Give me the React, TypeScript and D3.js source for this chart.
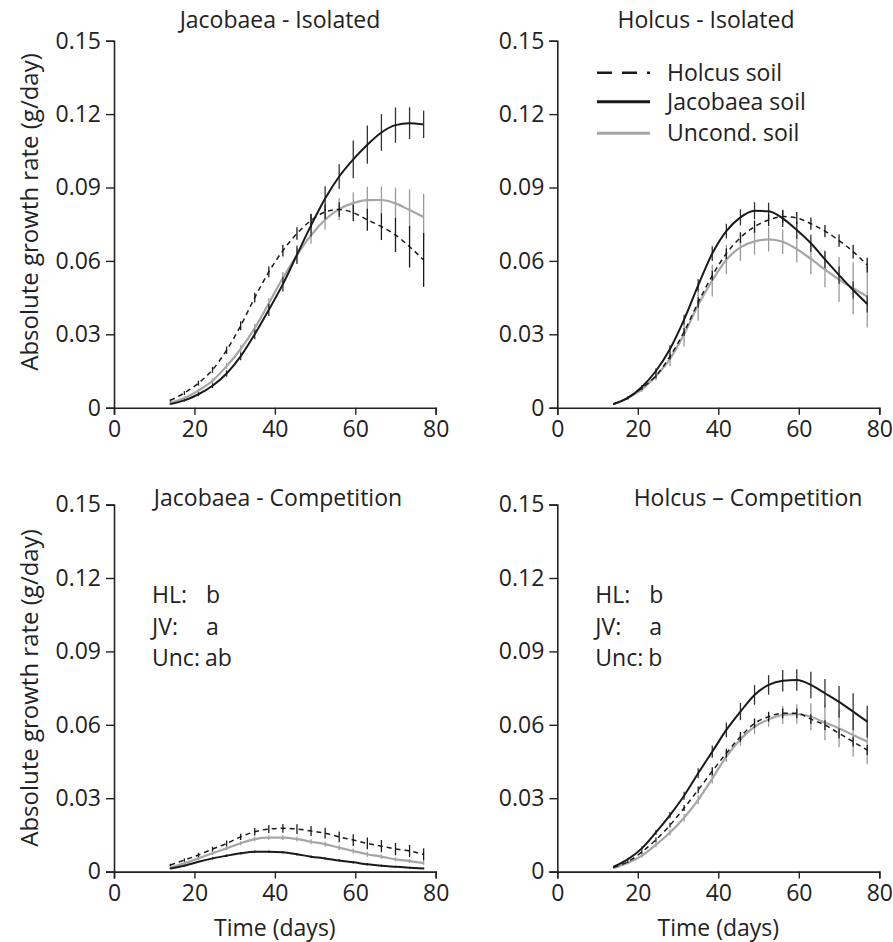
import React, { useEffect, useRef } from 'react';
import * as d3 from 'd3';

// sampling days (every 3.5 days)
const days = [14, 17.5, 21, 24.5, 28, 31.5, 35, 38.5, 42, 45.5, 49, 52.5, 56, 59.5, 63, 66.5, 70, 73.5, 77];

const yTicks = [0, 0.03, 0.06, 0.09, 0.12, 0.15];
const yTickLabels = ['0', '0.03', '0.06', '0.09', '0.12', '0.15'];
const xTicks = [0, 20, 40, 60, 80];

const seriesNames = ['Holcus soil', 'Jacobaea soil', 'Uncond. soil'];

// Jacobaea - Isolated
const jiHolcus = [0.003, 0.006, 0.010, 0.0155, 0.0235, 0.0335, 0.045, 0.0555, 0.0642, 0.0712, 0.0765, 0.080, 0.081, 0.0797, 0.0768, 0.074, 0.0706, 0.0658, 0.0604];
const jiHolcusSe = [0.0005, 0.0008, 0.001, 0.0012, 0.0015, 0.0018, 0.002, 0.0022, 0.0024, 0.0026, 0.0028, 0.003, 0.003, 0.0034, 0.0045, 0.0055, 0.007, 0.0085, 0.011];
const jiJacobaea = [0.0015, 0.003, 0.0055, 0.009, 0.014, 0.021, 0.030, 0.040, 0.0505, 0.0625, 0.0745, 0.0855, 0.0945, 0.1015, 0.1075, 0.1125, 0.1155, 0.1163, 0.1158];
const jiJacobaeaSe = [0.0003, 0.0005, 0.0008, 0.001, 0.0013, 0.0016, 0.002, 0.0025, 0.003, 0.0038, 0.0045, 0.005, 0.005, 0.0077, 0.0078, 0.0075, 0.0072, 0.0065, 0.0056];
const jiUncond = [0.002, 0.004, 0.007, 0.011, 0.017, 0.024, 0.0325, 0.0427, 0.053, 0.0624, 0.0705, 0.0768, 0.0812, 0.0836, 0.0848, 0.0849, 0.0835, 0.0808, 0.078];
const jiUncondSe = [0.0004, 0.0006, 0.0008, 0.001, 0.0012, 0.0015, 0.0018, 0.002, 0.0025, 0.003, 0.0035, 0.004, 0.0045, 0.0045, 0.0055, 0.0055, 0.0065, 0.0085, 0.0095];

// Holcus - Isolated
const hiHolcus = [0.0015, 0.004, 0.008, 0.013, 0.021, 0.031, 0.043, 0.054, 0.063, 0.0695, 0.074, 0.0767, 0.0781, 0.0775, 0.0752, 0.0722, 0.0683, 0.0638, 0.0583];
const hiHolcusSe = [0.0003, 0.0005, 0.0008, 0.001, 0.0013, 0.0016, 0.002, 0.002, 0.0022, 0.0022, 0.0025, 0.0025, 0.0025, 0.0025, 0.0025, 0.0025, 0.0025, 0.0028, 0.003];
const hiJacobaea = [0.0015, 0.004, 0.0085, 0.015, 0.024, 0.036, 0.050, 0.063, 0.0722, 0.0778, 0.0805, 0.0803, 0.0774, 0.0726, 0.0672, 0.0606, 0.0542, 0.0481, 0.0424];
const hiJacobaeaSe = [0.0003, 0.0005, 0.0008, 0.001, 0.0015, 0.002, 0.0025, 0.003, 0.003, 0.0033, 0.0035, 0.0035, 0.0035, 0.0035, 0.0035, 0.0035, 0.0035, 0.0035, 0.0035];
const hiUncond = [0.0015, 0.004, 0.0075, 0.013, 0.020, 0.030, 0.042, 0.052, 0.0605, 0.0655, 0.068, 0.0688, 0.0678, 0.0648, 0.0608, 0.0565, 0.0524, 0.0488, 0.0454];
const hiUncondSe = [0.0003, 0.0006, 0.001, 0.0018, 0.003, 0.005, 0.0065, 0.0065, 0.006, 0.0055, 0.0055, 0.005, 0.005, 0.0055, 0.0063, 0.0073, 0.0092, 0.0106, 0.0126];

// Jacobaea - Competition
const jcHolcus = [0.0027, 0.0047, 0.0068, 0.0092, 0.0115, 0.0142, 0.0163, 0.0174, 0.0177, 0.0174, 0.0166, 0.0157, 0.0142, 0.0129, 0.0115, 0.0104, 0.0092, 0.0084, 0.007];
const jcHolcusSe = [0.0005, 0.0007, 0.0009, 0.001, 0.0012, 0.0013, 0.0015, 0.0016, 0.0018, 0.002, 0.002, 0.0022, 0.0022, 0.0024, 0.0024, 0.0025, 0.0025, 0.0025, 0.0025];
const jcJacobaea = [0.0013, 0.0024, 0.004, 0.0054, 0.0065, 0.0075, 0.0081, 0.0081, 0.0079, 0.0071, 0.0061, 0.0054, 0.0045, 0.0038, 0.003, 0.0024, 0.002, 0.0016, 0.0013];
const jcJacobaeaSe = [0.0003, 0.0004, 0.0004, 0.0005, 0.0005, 0.0005, 0.0005, 0.0005, 0.0005, 0.0005, 0.0005, 0.0005, 0.0005, 0.0005, 0.0005, 0.0005, 0.0004, 0.0004, 0.0004];
const jcUncond = [0.0016, 0.0034, 0.0054, 0.0075, 0.0095, 0.0116, 0.0133, 0.0139, 0.0139, 0.0133, 0.0122, 0.0112, 0.0098, 0.0084, 0.0071, 0.0061, 0.005, 0.0043, 0.0035];
const jcUncondSe = [0.0004, 0.0005, 0.0006, 0.0007, 0.0008, 0.0008, 0.0009, 0.0009, 0.001, 0.001, 0.001, 0.001, 0.001, 0.001, 0.001, 0.0009, 0.0008, 0.0008, 0.0008];

// Holcus - Competition
const hcHolcus = [0.0018, 0.004, 0.008, 0.013, 0.019, 0.026, 0.0334, 0.041, 0.0484, 0.0551, 0.0606, 0.0633, 0.0647, 0.0647, 0.0623, 0.0599, 0.0565, 0.0531, 0.0497];
const hcHolcusSe = [0.0003, 0.0005, 0.0007, 0.0009, 0.001, 0.0012, 0.0014, 0.0016, 0.0018, 0.002, 0.002, 0.002, 0.002, 0.002, 0.002, 0.002, 0.002, 0.002, 0.002];
const hcJacobaea = [0.002, 0.005, 0.0095, 0.016, 0.0231, 0.031, 0.0402, 0.049, 0.0579, 0.0654, 0.0722, 0.0763, 0.078, 0.0783, 0.0763, 0.0729, 0.0694, 0.0654, 0.0613];
const hcJacobaeaSe = [0.0003, 0.0005, 0.0008, 0.001, 0.0013, 0.0016, 0.002, 0.0025, 0.003, 0.0035, 0.004, 0.004, 0.0044, 0.0044, 0.0054, 0.0058, 0.0065, 0.0075, 0.0065];
const hcUncond = [0.0015, 0.0035, 0.0065, 0.011, 0.016, 0.022, 0.0293, 0.038, 0.047, 0.054, 0.0592, 0.0622, 0.064, 0.0644, 0.0633, 0.0609, 0.0586, 0.0558, 0.0531];
const hcUncondSe = [0.0003, 0.0005, 0.0008, 0.001, 0.0012, 0.0015, 0.0018, 0.002, 0.0022, 0.0025, 0.003, 0.003, 0.0037, 0.004, 0.0055, 0.0072, 0.0078, 0.0089, 0.0092];

const panels = [
  { title: 'Jacobaea - Isolated', titleX: 280, col: 0, row: 0, yLabel: true, xLabel: false, letters: null,
    series: [[jiHolcus, jiHolcusSe], [jiJacobaea, jiJacobaeaSe], [jiUncond, jiUncondSe]] },
  { title: 'Holcus - Isolated', titleX: 706, col: 1, row: 0, yLabel: false, xLabel: false, letters: null,
    series: [[hiHolcus, hiHolcusSe], [hiJacobaea, hiJacobaeaSe], [hiUncond, hiUncondSe]] },
  { title: 'Jacobaea - Competition', titleX: 278, col: 0, row: 1, yLabel: true, xLabel: true, letters: ['b', 'a', 'ab'],
    series: [[jcHolcus, jcHolcusSe], [jcJacobaea, jcJacobaeaSe], [jcUncond, jcUncondSe]] },
  { title: 'Holcus \u2013 Competition', titleX: 748, col: 1, row: 1, yLabel: false, xLabel: true, letters: ['b', 'a', 'b'],
    series: [[hcHolcus, hcHolcusSe], [hcJacobaea, hcJacobaeaSe], [hcUncond, hcUncondSe]] },
];

const letterKeys = ['HL:', 'JV:', 'Unc:'];

const styles = [
  { color: '#1a1a1a', width: 1.5, dash: '5,4', barColor: '#1a1a1a' },
  { color: '#1a1a1a', width: 2, dash: null, barColor: '#333' },
  { color: '#a6a6a6', width: 2.2, dash: null, barColor: '#9a9a9a' },
];

const App = () => {
  const svgRef = useRef(null);

  useEffect(() => {
    document.body.style.margin = '0';
    const svg = d3.select(svgRef.current);
    svg.selectAll('*').remove();

    const font = "'Open Sans', sans-serif";
    const fs = '23px';
    const colX = [[114, 435.7], [557.3, 879.3]];
    const rowY = [[407.7, 40.7], [871.6, 504.6]];
    const titleY = [20, 498];

    panels.forEach(p => {
      const x = d3.scaleLinear().domain([0, 80]).range(colX[p.col]);
      const y = d3.scaleLinear().domain([0, 0.15]).range(rowY[p.row]);
      const g = svg.append('g');

      // axes
      const yAxis = g.append('g')
        .attr('transform', `translate(${x(0)},0)`)
        .call(d3.axisLeft(y).tickValues(yTicks).tickFormat((d, i) => yTickLabels[i]).tickSizeOuter(0).tickSize(8).tickPadding(5));
      const xAxis = g.append('g')
        .attr('transform', `translate(0,${y(0)})`)
        .call(d3.axisBottom(x).tickValues(xTicks).tickSizeOuter(0).tickSize(7).tickPadding(6));
      [yAxis, xAxis].forEach(a => {
        a.select('.domain').attr('stroke', '#222').attr('stroke-width', 1.6);
        a.selectAll('.tick line').attr('stroke', '#222').attr('stroke-width', 1.4);
        a.selectAll('text').attr('fill', '#222').style('font-family', font).style('font-size', fs);
      });

      // series: draw grey first, then solid, then dashed on top
      [2, 1, 0].forEach(si => {
        const [vals, se] = p.series[si];
        const st = styles[si];
        const pts = days.map((d, i) => ({ d, v: vals[i], e: se[i] }));

        g.selectAll(null)
          .data(pts)
          .enter()
          .append('line')
          .attr('x1', d => x(d.d))
          .attr('x2', d => x(d.d))
          .attr('y1', d => y(d.v - d.e))
          .attr('y2', d => y(d.v + d.e))
          .attr('stroke', st.barColor)
          .attr('stroke-width', 1.3);

        const line = d3.line()
          .x(d => x(d.d))
          .y(d => y(d.v))
          .curve(d3.curveMonotoneX);

        g.append('path')
          .datum(pts)
          .attr('fill', 'none')
          .attr('stroke', st.color)
          .attr('stroke-width', st.width)
          .attr('stroke-dasharray', st.dash)
          .attr('d', line);
      });

      // title
      g.append('text')
        .attr('x', p.titleX)
        .attr('y', titleY[p.row])
        .attr('dy', '0.35em')
        .attr('text-anchor', 'middle')
        .attr('fill', '#222')
        .style('font-family', font)
        .style('font-size', fs)
        .text(p.title);

      if (p.yLabel) {
        g.append('text')
          .attr('transform', `translate(30,${p.row === 0 ? 212 : 688}) rotate(-90)`)
          .attr('dy', '0.35em')
          .attr('text-anchor', 'middle')
          .attr('fill', '#222')
          .style('font-family', font)
          .style('font-size', '24px')
          .text('Absolute growth rate (g/day)');
      }

      if (p.xLabel) {
        g.append('text')
          .attr('x', (colX[p.col][0] + colX[p.col][1]) / 2)
          .attr('y', 928)
          .attr('dy', '0.35em')
          .attr('text-anchor', 'middle')
          .attr('fill', '#222')
          .style('font-family', font)
          .style('font-size', fs)
          .text('Time (days)');
      }

      if (p.letters) {
        const lx = x(0) + 38;
        letterKeys.forEach((k, i) => {
          const ty = 595 + i * 31.7;
          g.append('text')
            .attr('x', lx).attr('y', ty).attr('dy', '0.35em')
            .attr('fill', '#222')
            .style('font-family', font).style('font-size', fs)
            .text(k);
          g.append('text')
            .attr('x', lx + (i === 2 ? 53 : 54)).attr('y', ty).attr('dy', '0.35em')
            .attr('fill', '#222')
            .style('font-family', font).style('font-size', fs)
            .text(p.letters[i]);
        });
      }
    });

    // legend in Holcus - Isolated panel
    const legY = [72.7, 101.7, 133.3];
    seriesNames.forEach((name, i) => {
      const st = styles[i];
      svg.append('line')
        .attr('x1', 597).attr('x2', 650)
        .attr('y1', legY[i]).attr('y2', legY[i])
        .attr('stroke', st.color)
        .attr('stroke-width', i === 0 ? 2.5 : 3)
        .attr('stroke-dasharray', i === 0 ? '15,10' : null);
      svg.append('text')
        .attr('x', 667).attr('y', legY[i]).attr('dy', '0.35em')
        .attr('fill', '#222')
        .style('font-family', font)
        .style('font-size', fs)
        .text(name);
    });
  }, []);

  return <svg ref={svgRef} width={893} height={942} style={{ display: 'block', background: '#fff' }}></svg>;
};

export default App;
